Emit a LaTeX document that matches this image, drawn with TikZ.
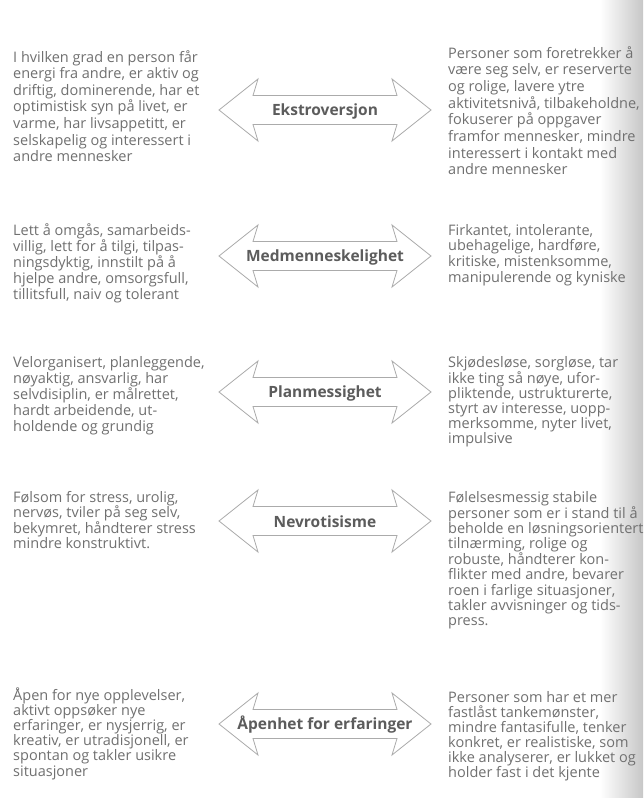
\documentclass[tikz,border=0pt]{standalone}
\usepackage{fontspec}
\setmainfont{Open Sans}
\usetikzlibrary{shadings}
\definecolor{txt}{HTML}{707070}
\definecolor{lab}{HTML}{5C5C5C}
\definecolor{arr}{HTML}{ABABAB}
\newcommand\blk[2]{\parbox[t]{240pt}{\raggedright\fontsize{14.5}{#1}\selectfont #2}}
\newcommand\dblarrow[2]{%
  \draw[arrowshape] (219,#2) -- (258,{#2-31}) -- (253,{#2-14.5}) -- (397,{#2-14.5})
    -- (392,{#2-31}) -- (431,#2) -- (392,{#2+31}) -- (397,{#2+14.5})
    -- (253,{#2+14.5}) -- (258,{#2+31}) -- cycle;
  \node[labelstyle] (#1) at (325,{#2+1}) {#1};}
\begin{document}
\begin{tikzpicture}[x=1pt,y=-1pt,
  body/.style={anchor=base west, inner sep=0pt, text=txt},
  arrowshape/.style={draw=arr, line width=0.8pt, fill=white, line join=miter},
  labelstyle/.style={inner sep=0pt, text=lab, font=\fontsize{15.5}{17}\selectfont\bfseries}]
\useasboundingbox (0,0) rectangle (643,798);
\fill[white] (0,0) rectangle (643,798);
\shade[left color=white, right color=black!22] (600,0) rectangle (643,798);

% Row 1
\node[body] (l1) at (13,62) {\blk{16.6}{I hvilken grad en person får\\
energi fra andre, er aktiv og\\
driftig, dominerende, har et\\
optimistisk syn på livet, er\\
varme, har livsappetitt, er\\
selskapelig og interessert i\\
andre mennesker}};
\node[body] (r1) at (448,58) {\blk{16.7}{Personer som foretrekker å\\
være seg selv, er reserverte\\
og rolige, lavere ytre\\
aktivitetsnivå, tilbakeholdne,\\
fokuserer på oppgaver\\
framfor mennesker, mindre\\
interessert i kontakt med\\
andre mennesker}};
\dblarrow{Ekstroversjon}{110}

% Row 2
\node[body] (l2) at (13,235) {\blk{16}{Lett å omgås, samarbeids-\\
villig, lett for å tilgi, tilpas-\\
ningsdyktig, innstilt på å\\
hjelpe andre, omsorgsfull,\\
tillitsfull, naiv og tolerant}};
\node[body] (r2) at (448,235) {\blk{15.8}{Firkantet, intolerante,\\
ubehagelige, hardføre,\\
kritiske, mistenksomme,\\
manipulerende og kyniske}};
\dblarrow{Medmenneskelighet}{256}

% Row 3
\node[body] (l3) at (13,367) {\blk{16}{Velorganisert, planleggende,\\
nøyaktig, ansvarlig, har\\
selvdisiplin, er målrettet,\\
hardt arbeidende, ut-\\
holdende og grundig}};
\node[body] (r3) at (448,367) {\blk{15.1}{Skjødesløse, sorgløse, tar\\
ikke ting så nøye, ufor-\\
pliktende, ustrukturerte,\\
styrt av interesse, uopp-\\
merksomme, nyter livet,\\
impulsive}};
\dblarrow{Planmessighet}{392}

% Row 4
\node[body] (l4) at (13,502) {\blk{15.5}{Følsom for stress, urolig,\\
nervøs, tviler på seg selv,\\
bekymret, håndterer stress\\
mindre konstruktivt.}};
\node[body] (r4) at (448,502) {\blk{15.1}{Følelsesmessig stabile\\
personer som er i stand til å\\
beholde en løsningsorientert\\
tilnærming, rolige og\\
robuste, håndterer kon-\\
flikter med andre, bevarer\\
roen i farlige situasjoner,\\
takler avvisninger og tids-\\
press.}};
\dblarrow{Nevrotisisme}{521}

% Row 5
\node[body] (l5) at (13,700) {\blk{15.2}{Åpen for nye opplevelser,\\
aktivt oppsøker nye\\
erfaringer, er nysjerrig, er\\
kreativ, er utradisjonell, er\\
spontan og takler usikre\\
situasjoner}};
\node[body] (r5) at (448,702) {\blk{15}{Personer som har et mer\\
fastlåst tankemønster,\\
mindre fantasifulle, tenker\\
konkret, er realistiske, som\\
ikke analyserer, er lukket og\\
holder fast i det kjente}};
\dblarrow{Åpenhet for erfaringer}{724}
\end{tikzpicture}
\end{document}
